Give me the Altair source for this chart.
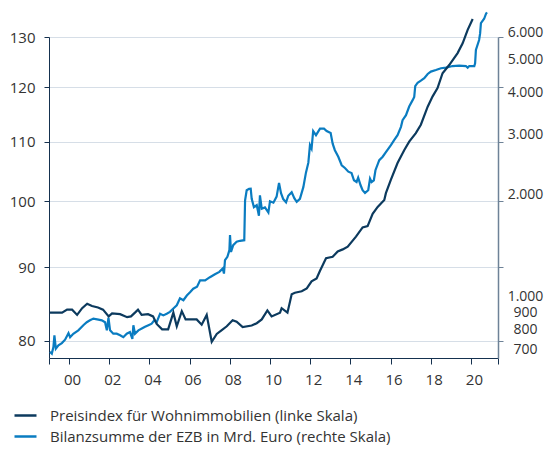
import altair as alt
import pandas as pd

# Preisindex für Wohnimmobilien (linke Skala)
price_years = [1999.05, 1999.65, 1999.90, 2000.15, 2000.40, 2000.65, 2000.90, 2001.14, 2001.44, 2001.69,
               2001.97, 2002.14, 2002.54, 2002.89, 2003.08, 2003.28, 2003.43, 2003.61, 2003.93, 2004.18,
               2004.36, 2004.63, 2004.93, 2005.19, 2005.36, 2005.61, 2005.80, 2006.35, 2006.60, 2006.85,
               2007.10, 2007.35, 2007.60, 2007.85, 2008.14, 2008.34, 2008.64, 2009.09, 2009.34, 2009.59,
               2009.87, 2010.08, 2010.50, 2010.58, 2010.87, 2011.08, 2011.24, 2011.58, 2011.83, 2012.07,
               2012.32, 2012.49, 2012.79, 2013.12, 2013.37, 2013.62, 2013.87, 2014.28, 2014.61, 2014.86,
               2015.11, 2015.36, 2015.69, 2015.77, 2016.02, 2016.35, 2016.68, 2016.93, 2017.26, 2017.51,
               2017.85, 2018.09, 2018.34, 2018.59, 2018.92, 2019.34, 2019.59, 2019.84, 2020.09]
price_values = [83.7, 83.7, 84.1, 84.1, 83.4, 84.3, 84.9, 84.6, 84.4, 84.1,
                83.2, 83.6, 83.5, 83.1, 83.2, 83.7, 84.1, 83.4, 83.5, 83.2,
                82.2, 81.5, 81.5, 83.7, 81.9, 83.9, 82.8, 82.8, 82.1, 83.4,
                79.9, 80.9, 81.4, 81.9, 82.7, 82.5, 81.8, 82.0, 82.3, 82.8,
                84.0, 83.2, 83.7, 84.3, 83.7, 86.2, 86.4, 86.6, 87.0, 88.0,
                88.4, 89.5, 91.3, 91.5, 92.3, 92.6, 93.0, 94.5, 95.9, 96.1,
                98.0, 99.1, 100.2, 101.3, 103.5, 106.3, 108.5, 110.0, 111.5, 113.0,
                116.3, 118.2, 119.8, 122.7, 124.3, 126.7, 128.7, 131.5, 133.8]

# Bilanzsumme der EZB in Mrd. Euro (rechte Skala)
ecb_years = [1999.05, 1999.14, 1999.22, 1999.27, 1999.34, 1999.47, 1999.64, 1999.80, 1999.97, 2000.05,
             2000.21, 2000.46, 2000.71, 2000.88, 2001.04, 2001.21, 2001.46, 2001.63, 2001.79, 2001.88,
             2001.96, 2002.04, 2002.20, 2002.37, 2002.54, 2002.70, 2002.87, 2003.03, 2003.15, 2003.20,
             2003.28, 2003.45, 2003.62, 2003.78, 2003.95, 2004.11, 2004.24, 2004.36, 2004.53, 2004.69,
             2004.86, 2005.02, 2005.19, 2005.36, 2005.52, 2005.69, 2005.86, 2006.02, 2006.18, 2006.37,
             2006.52, 2006.77, 2007.01, 2007.26, 2007.48, 2007.65, 2007.71, 2007.76, 2007.88, 2007.98,
             2008.01, 2008.06, 2008.17, 2008.34, 2008.51, 2008.72, 2008.76, 2008.84, 2008.96, 2009.04,
             2009.09, 2009.20, 2009.34, 2009.45, 2009.50, 2009.59, 2009.75, 2009.92, 2010.00, 2010.17,
             2010.33, 2010.45, 2010.55, 2010.66, 2010.80, 2010.91, 2011.08, 2011.21, 2011.33, 2011.49,
             2011.66, 2011.79, 2011.91, 2011.99, 2012.07, 2012.15, 2012.29, 2012.49, 2012.69, 2012.82,
             2013.02, 2013.12, 2013.23, 2013.40, 2013.57, 2013.73, 2013.90, 2014.06, 2014.18, 2014.31,
             2014.39, 2014.51, 2014.61, 2014.73, 2014.89, 2014.98, 2015.06, 2015.17, 2015.25, 2015.44,
             2015.61, 2015.77, 2016.02, 2016.18, 2016.35, 2016.52, 2016.60, 2016.77, 2016.93, 2017.10,
             2017.18, 2017.23, 2017.35, 2017.51, 2017.68, 2017.85, 2018.01, 2018.26, 2018.51, 2018.76,
             2019.09, 2019.42, 2019.75, 2019.84, 2019.92, 2020.17, 2020.21, 2020.25, 2020.41, 2020.46,
             2020.50, 2020.66, 2020.75, 2020.80]
ecb_values = [688, 680, 711, 770, 703, 719, 730, 747, 781, 760,
              778, 796, 824, 841, 852, 862, 856, 852, 841, 796,
              868, 796, 778, 778, 770, 760, 778, 787, 751, 824,
              778, 796, 806, 815, 824, 833, 852, 841, 891, 881,
              891, 902, 923, 943, 989, 976, 1008, 1030, 1055, 1069,
              1117, 1117, 1141, 1164, 1183, 1211, 1169, 1280, 1310, 1370,
              1517, 1354, 1417, 1450, 1460, 1466, 1921, 2056, 2076, 2079,
              1941, 1834, 1859, 1730, 1987, 1814, 1830, 1768, 1909, 1890,
              1970, 2161, 2016, 1937, 1894, 1981, 2030, 1949, 1901, 1940,
              2100, 2317, 2479, 2790, 2727, 3068, 2986, 3120, 3120, 3070,
              3030, 2820, 2697, 2580, 2436, 2390, 2332, 2310, 2200, 2175,
              2240, 2127, 2056, 2020, 2056, 2225, 2175, 2200, 2355, 2520,
              2580, 2662, 2790, 2886, 2986, 3160, 3306, 3420, 3625, 3786,
              3870, 4163, 4260, 4320, 4393, 4520, 4593, 4641, 4700, 4718,
              4770, 4780, 4770, 4718, 4770, 4770, 4860, 5316, 5689, 5950,
              6380, 6570, 6790, 6860]

series_names = ["Preisindex für Wohnimmobilien (linke Skala)",
                "Bilanzsumme der EZB in Mrd. Euro (rechte Skala)"]
series_colors = ["#0c3a5e", "#0a7cc1"]

left_ticks = [80, 90, 100, 110, 120, 130]
right_ticks = [700, 800, 900, 1000, 2000, 3000, 4000, 5000, 6000]
x_ticks = [1999, 2000, 2002, 2004, 2006, 2008, 2010, 2012, 2014, 2016, 2018, 2020, 2021.35]

price = pd.DataFrame({"year": price_years, "value": price_values, "series": series_names[0]})
ecb = pd.DataFrame({"year": ecb_years, "value": ecb_values, "series": series_names[1]})

W, H = 449, 321
FONT = "Open Sans"
AX_DARK = "#15314f"
AX_GREY = "#6e8297"
TXT = "#333333"

x_enc = alt.X("year:Q",
              scale=alt.Scale(domain=[1999, 2021.35], nice=False, zero=False),
              axis=alt.Axis(values=x_ticks, title=None, grid=False,
                            labelExpr="(datum.value < 2000 || datum.value > 2020.5) ? '' : substring(toString(datum.value), 2, 4)",
                            labelOffset=3, labelPadding=8, tickSize=6,
                            domainColor=AX_DARK, tickColor=AX_DARK, labelColor=TXT,
                            labelFont=FONT, labelFontSize=15, labelFlush=False, labelOverlap=False))

color_enc = alt.Color("series:N",
                      scale=alt.Scale(domain=series_names, range=series_colors),
                      legend=alt.Legend(title=None, orient="none", legendX=-36, legendY=366,
                                        symbolType="stroke", symbolSize=484, symbolStrokeWidth=2.5,
                                        labelFont=FONT, labelFontSize=15, labelColor=TXT,
                                        labelOffset=12, rowPadding=-5, padding=0, labelLimit=500))

left_scale = alt.Scale(type="log", domain=[77.85, 130], nice=False, zero=False)

price_line = alt.Chart(price).mark_line(strokeWidth=2.2).encode(
    x=x_enc,
    y=alt.Y("value:Q", scale=left_scale,
            axis=alt.Axis(orient="left", values=left_ticks, format="d", title=None,
                          grid=True, gridColor="#d6dee7", gridWidth=1,
                          domainColor=AX_DARK, tickColor=AX_DARK, tickSize=5,
                          labelPadding=9, labelColor=TXT, labelFont=FONT, labelFontSize=15,
                          labelOverlap=False, labelFlush=False)),
    color=color_enc,
)

ecb_line = alt.Chart(ecb).mark_line(strokeWidth=2.2).encode(
    x=x_enc,
    y=alt.Y("value:Q",
            scale=alt.Scale(type="log", domain=[660, 6600], range=[H, -18.9], nice=False, zero=False),
            axis=alt.Axis(orient="right", values=right_ticks, title=None, grid=False,
                          domain=False, ticks=False, tickSize=0, labelPadding=27, labelAlign="center",
                          labelExpr="replace(format(datum.value, ','), ',', '.')",
                          labelColor=TXT, labelFont=FONT, labelFontSize=14,
                          labelOverlap=False, labelFlush=False, labelBound=False)),
    color=color_enc,
)

right_ticks_layer = alt.Chart(price).mark_line(strokeOpacity=0).encode(
    x=x_enc,
    y=alt.Y("value:Q", scale=left_scale,
            axis=alt.Axis(orient="right", values=left_ticks, title=None, grid=False, labels=False,
                          domainColor=AX_GREY, tickColor=AX_GREY, tickSize=5, domainWidth=1.5)),
)

chart = alt.layer(right_ticks_layer, ecb_line, price_line).resolve_scale(
    y="independent"
).resolve_axis(
    y="independent"
).properties(
    width=W, height=H,
    autosize=alt.AutoSizeParams(type="none"),
    padding={"left": 41, "top": 29, "right": 46, "bottom": 87},
).configure_view(strokeWidth=0)

chart.save("out.html", embed_options={"renderer": "svg", "actions": False})
